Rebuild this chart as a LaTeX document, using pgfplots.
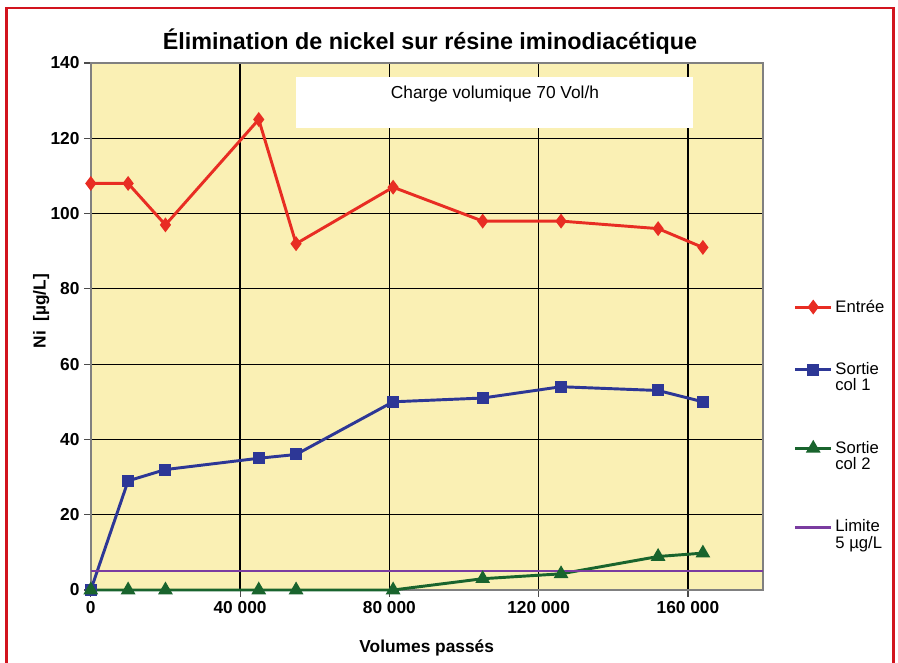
\documentclass[border=0pt]{standalone}
\usepackage{fontspec}
\setmainfont{Liberation Sans}
\usepackage{pgfplots}
\pgfplotsset{compat=1.18}
\definecolor{bgY}{RGB}{250,240,180}
\definecolor{cRed}{RGB}{232,45,35}
\definecolor{cBlue}{RGB}{45,55,150}
\definecolor{cGreen}{RGB}{25,100,45}
\definecolor{cPurple}{RGB}{122,60,160}
\definecolor{cFrame}{RGB}{210,20,30}
\begin{document}
\begin{tikzpicture}
\path[use as bounding box] (0,0) rectangle (673.5pt,496.5pt);
\draw[cFrame, line width=2.2pt] (5.2pt,-2pt) -- (5.2pt,490.5pt) -- (669.8pt,490.5pt) -- (669.8pt,-2pt);
\node[font=\bfseries\fontsize{17.5}{20}\selectfont] at (322.5pt,465pt) {Élimination de nickel sur résine iminodiacétique};
\begin{axis}[
  at={(68.1pt,54pt)}, anchor=south west,
  scale only axis, width=503.85pt, height=395.25pt,
  xmin=0, xmax=180000, ymin=0, ymax=140,
  scaled x ticks=false,
  xtick={0,40000,80000,120000,160000},
  xticklabels={0,40 000,80 000,120 000,160 000},
  ytick={0,20,...,140},
  xtick pos=lower, ytick pos=left,
  grid=major,
  major grid style={black, line width=0.95pt},
  axis background/.style={fill=bgY},
  axis line style={gray, line width=1.5pt},
  tick style={black!70, line width=0.8pt},
  tick align=outside, major tick length=5pt,
  tick label style={font=\bfseries\fontsize{13}{15}\selectfont},
  /pgf/number format/assume math mode=true,
  xlabel={Volumes passés}, ylabel={Ni\ \ [µg/L]},
  label style={font=\bfseries\fontsize{13}{15}\selectfont},
  x label style={at={(axis description cs:0.5,-0.11)}, anchor=center},
  y label style={at={(axis description cs:-0.074,0.529)}, anchor=center},
  clip=false,
  legend cell align=left,
  legend style={draw=none, fill=none, at={(axis description cs:1.046,0.556)}, anchor=north west,
     font=\fontsize{12.5}{12.5}\selectfont, row sep=32pt, inner sep=0pt,
     nodes={align=left, inner sep=2pt}},
  legend image code/.code={\draw[mark repeat=2,mark phase=2] plot coordinates {(0pt,0pt) (13.5pt,0pt) (27pt,0pt)};},
]
\fill[white] (axis cs:54980,122.7) rectangle (axis cs:161350,136.3);
\node[font=\fontsize{13}{15}\selectfont] at (axis cs:108300,131.7) {Charge volumique 70 Vol/h};
\addplot[cRed, line width=2.2pt, mark=diamond*, mark size=3.8pt, mark options={solid}] coordinates {
 (0,108) (10000,108) (20000,97) (45000,125) (55000,92) (81000,107) (105000,98) (126000,98) (152000,96) (164000,91)};
\addlegendentry{Entrée}
\addplot[cBlue, line width=2.2pt, mark=square*, mark size=3.4pt, legend image post style={yshift=6pt}] coordinates {
 (0,0) (10000,29) (20000,32) (45000,35) (55000,36) (81000,50) (105000,51) (126000,54) (152000,53) (164000,50)};
\addlegendentry{Sortie\\col 1}
\addplot[cGreen, line width=2.2pt, mark=triangle*, mark size=4.2pt, legend image post style={yshift=6pt}] coordinates {
 (0,0) (10000,0) (20000,0) (45000,0) (55000,0) (81000,0) (105000,3) (126000,4.3) (152000,8.9) (164000,9.8)};
\addlegendentry{Sortie\\col 2}
\addplot[cPurple, line width=1.7pt, legend image post style={yshift=6pt, line width=2.2pt}] coordinates {(0,5) (180000,5)};
\addlegendentry{Limite\\5 µg/L}
\end{axis}
\end{tikzpicture}
\end{document}
